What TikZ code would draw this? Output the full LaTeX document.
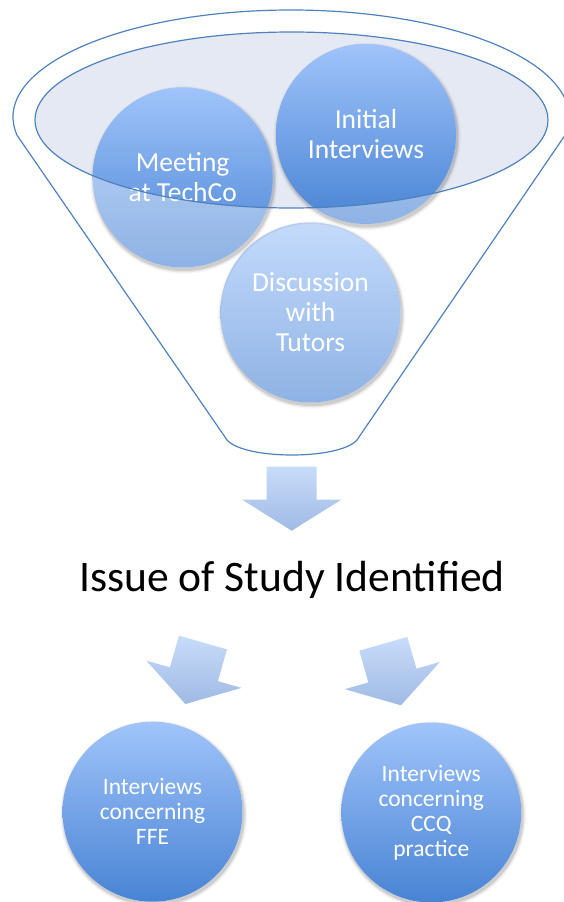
\documentclass[tikz,border=0pt]{standalone}
\usepackage{fontspec}
\setmainfont{Carlito}

\definecolor{lineblue}{RGB}{79,129,189}
\definecolor{bowlfill}{RGB}{228,233,243}
\definecolor{bubtop}{RGB}{160,196,250}
\definecolor{bubbot}{RGB}{72,131,212}
\definecolor{arrtop}{RGB}{200,220,250}
\definecolor{arrbot}{RGB}{160,186,228}

\tikzset{
  funnelline/.style={draw=lineblue, line width=1.2pt},
  bubble/.style={top color=bubtop, bottom color=bubbot, draw=none},
  bubtext/.style={text=white, align=center, font=\fontsize{27.5}{30}\selectfont},
  lowtext/.style={text=white, align=center, font=\fontsize{23.5}{25}\selectfont},
  % soft shadow ring just outside a circle of radius 90
  bubshadow/.pic={
    \foreach \r/\o in {91/0.10, 92.2/0.07, 93.6/0.04}
      \fill[black, opacity=\o, even odd rule] (1.2,2.5) circle[radius=\r] (0,0) circle[radius=90];
  },
  % block arrow drawn from the middle of its tail, pointing down
  blockarrow/.pic={
    \shade[top color=arrtop, bottom color=arrbot]
      (-25,0) -- (25,0) -- (25,33) -- (49.5,33) -- (0,64) -- (-49.5,33) -- (-25,33) -- cycle;
    \coordinate (-tip) at (0,64);
  },
}

\begin{document}
\begin{tikzpicture}[x=1pt,y=-1pt]
\useasboundingbox (0,0) rectangle (563,902);

% circle centres
\coordinate (meetc) at (182.7,177.5);
\coordinate (initc) at (366,134);
\coordinate (discc) at (310.5,312.5);
\coordinate (ffec)  at (152.5,811.7);
\coordinate (ccqc)  at (431.3,812.5);
\coordinate (bowl)  at (291.5,120);

% funnel outline
\draw[funnelline] (17.22,135.58) arc[start angle=170, end angle=370, x radius=278, y radius=107]
  -- (359,437) .. controls (348,461) and (236,461) .. (225,437) -- cycle;

% mouth of the funnel
\fill[bowlfill] (bowl) ellipse[x radius=256.5, y radius=88];

% sources, pale where they leave the mouth
\pic at (meetc) {bubshadow};
\pic at (initc) {bubshadow};
\pic at (discc) {bubshadow};
\shade[bubble, opacity=0.62] (meetc) circle[radius=90];
\shade[bubble, opacity=0.62] (initc) circle[radius=90];
\shade[bubble, opacity=0.62] (discc) circle[radius=90];
\begin{scope}
  \clip (bowl) ellipse[x radius=256.5, y radius=88];
  \shade[bubble] (meetc) circle[radius=90];
  \shade[bubble] (initc) circle[radius=90];
\end{scope}

\node[bubtext] (meet) at (meetc) {Meeting\\at TechCo};
\node[bubtext] (init) at (initc) {Initial\\Interviews};
\node[bubtext] (disc) at (discc) {Discussion\\with\\Tutors};

\draw[funnelline] (bowl) ellipse[x radius=256.5, y radius=88];

% outcome
\pic (down) at (291.7,466.7) {blockarrow};
\node[font=\fontsize{43.6}{52}\selectfont, anchor=base] (issue) at (292,591.7) {Issue of Study Identified};

\pic[rotate=-16] (toffe) at (203,642.5) {blockarrow};
\pic[rotate=16] (toccq) at (383.3,643.8) {blockarrow};

\pic at (ffec) {bubshadow};
\pic at (ccqc) {bubshadow};
\shade[bubble] (ffec) circle[radius=90];
\shade[bubble] (ccqc) circle[radius=90];
\node[lowtext] (ffe) at (ffec) {Interviews\\concerning\\FFE};
\node[lowtext] (ccq) at (ccqc) {Interviews\\concerning\\CCQ\\practice};
\end{tikzpicture}
\end{document}
